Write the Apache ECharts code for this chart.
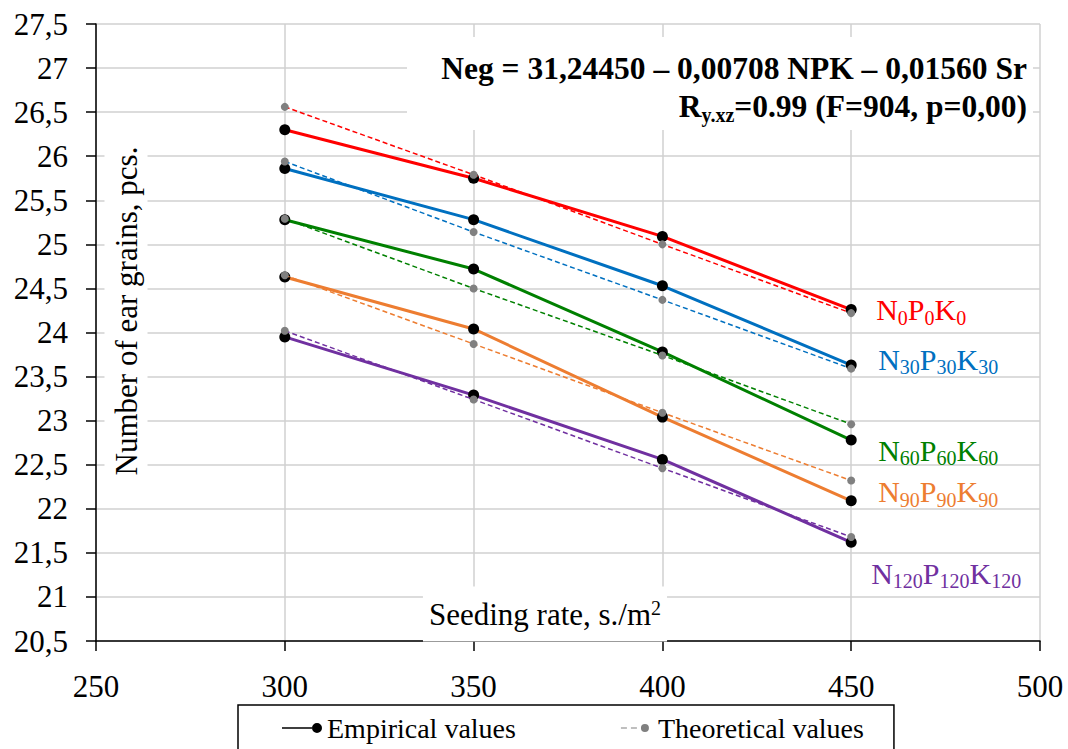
<!DOCTYPE html>
<html>
<head>
<meta charset="utf-8">
<script src="https://cdn.jsdelivr.net/npm/echarts@6/dist/echarts.min.js"></script>
<style>
html,body{margin:0;padding:0;background:#fff;}
#chart{width:1068px;height:749px;}
</style>
</head>
<body>
<div id="chart"></div>
<script>
// ---- data ----
const seedingRates = [300, 350, 400, 450];
const xMin = 250, xMax = 500, xStep = 50;
const yMin = 20.5, yMax = 27.5, yStep = 0.5;

const groupSubs = ['0', '30', '60', '90', '120'];
const groupColors = ['#ff0000', '#0070c0', '#008000', '#ed7d31', '#7030a0'];

const empiricalN0   = [26.30, 25.75, 25.09, 24.26];
const empiricalN30  = [25.86, 25.28, 24.53, 23.63];
const empiricalN60  = [25.28, 24.72, 23.78, 22.78];
const empiricalN90  = [24.63, 24.04, 23.04, 22.09];
const empiricalN120 = [23.95, 23.29, 22.56, 21.62];

const theoreticalN0   = [26.56, 25.79, 25.00, 24.22];
const theoreticalN30  = [25.94, 25.14, 24.37, 23.59];
const theoreticalN60  = [25.29, 24.50, 23.74, 22.96];
const theoreticalN90  = [24.65, 23.87, 23.09, 22.32];
const theoreticalN120 = [24.02, 23.24, 22.46, 21.68];

const empirical = [empiricalN0, empiricalN30, empiricalN60, empiricalN90, empiricalN120];
const theoretical = [theoreticalN0, theoreticalN30, theoreticalN60, theoreticalN90, theoreticalN120];

const legendNames = ['Empirical values', 'Theoretical values'];
const yTitle = 'Number of ear grains, pcs.';
const xTitleMain = 'Seeding rate, s./m';
const xTitleSup = '2';
const equationLine1 = 'Neg = 31,24450 – 0,00708 NPK – 0,01560 Sr';
const equationR = 'R';
const equationRSub = 'y.xz';
const equationLine2Rest = '=0.99 (F=904, p=0,00)';

// ---- layout / style ----
const FONT = '"Liberation Serif", "Times New Roman", serif';
const labelOffsets = [[25, 0], [27, -6], [27, 10], [27, -9], [20, 31]];

const series = [];
groupSubs.forEach((sub, i) => {
  const color = groupColors[i];
  series.push({
    name: 'theor' + i,
    type: 'line',
    data: seedingRates.map((x, j) => [x, theoretical[i][j]]),
    symbol: 'circle',
    symbolSize: 8,
    itemStyle: { color: '#808080' },
    lineStyle: { color: color, width: 1.5, type: [5, 3] },
    z: 4,
    silent: true
  });
  series.push({
    name: 'emp' + i,
    type: 'line',
    data: seedingRates.map((x, j) => [x, empirical[i][j]]),
    symbol: 'circle',
    symbolSize: 11,
    itemStyle: { color: '#000' },
    lineStyle: { color: color, width: 3 },
    z: 3,
    silent: true,
    endLabel: {
      show: true,
      distance: labelOffsets[i][0],
      offset: [0, labelOffsets[i][1]],
      formatter: () => `{m|N}{s|${sub}}{m|P}{s|${sub}}{m|K}{s|${sub}}`,
      rich: {
        m: { fontSize: 30, fontFamily: FONT, color: color },
        s: { fontSize: 20, fontFamily: FONT, color: color, padding: [16, 0, 0, 0] }
      }
    }
  });
});

// legend-only series
series.push({ name: legendNames[0], type: 'line', data: [], itemStyle: { color: '#000' }, lineStyle: { color: '#000' } });
series.push({ name: legendNames[1], type: 'line', data: [], itemStyle: { color: '#808080' }, lineStyle: { color: '#808080' } });

const iconEmp = 'path://M0,4.3L30,4.3L30,5.7L0,5.7Z M30,5A5,5 0 1 1 40,5A5,5 0 1 1 30,5Z';
const iconTheo = 'path://M8,4.5L14,4.5L14,5.5L8,5.5Z M18,4.5L24,4.5L24,5.5L18,5.5Z M28,5A4,4 0 1 1 36,5A4,4 0 1 1 28,5Z M0,0L0.01,0L0.01,0.01Z M40,10L39.99,10L39.99,9.99Z';

const chart = echarts.init(document.getElementById('chart'), null, { renderer: 'svg' });
chart.setOption({
  animation: false,
  backgroundColor: '#fff',
  grid: { left: 96, right: 28, top: 24, bottom: 108, containLabel: false },
  xAxis: {
    type: 'value', min: xMin, max: xMax, interval: xStep,
    axisLine: { onZero: false, lineStyle: { color: '#000', width: 1.5 } },
    axisTick: { show: true, length: 10, lineStyle: { color: '#000', width: 1.5 } },
    axisLabel: { margin: 30, fontFamily: FONT, fontSize: 31, color: '#000' },
    splitLine: { show: true, lineStyle: { color: '#d0d0d0', width: 1.5 } }
  },
  yAxis: {
    type: 'value', min: yMin, max: yMax, interval: yStep,
    axisLine: { show: true, onZero: false, lineStyle: { color: '#000', width: 1.5 } },
    axisTick: { show: true, length: 10, lineStyle: { color: '#000', width: 1.5 } },
    axisLabel: { margin: 28, fontFamily: FONT, fontSize: 31, color: '#000',
      formatter: v => String(v).replace('.', ',') },
    splitLine: { show: true, lineStyle: { color: '#d0d0d0', width: 1.5 } }
  },
  legend: {
    data: [{ name: legendNames[0], icon: iconEmp }, { name: legendNames[1], icon: iconTheo }],
    left: 238, top: 705,
    itemWidth: 40, itemHeight: 10, itemGap: 97,
    padding: [9, 30, 40, 44],
    borderColor: '#000', borderWidth: 1.5, backgroundColor: '#fff',
    selectedMode: false,
    itemStyle: { borderWidth: 0 },
    textStyle: { fontFamily: FONT, fontSize: 28, color: '#000' }
  },
  graphic: [
    { type: 'rect', z: 1, shape: { x: 407, y: 37, width: 626, height: 93 }, style: { fill: '#fff' } },
    { type: 'text', z: 5, x: 1027, y: 68,
      style: { text: equationLine1, fontFamily: FONT, fontSize: 31.5, fontWeight: 'bold', fill: '#000', align: 'right', verticalAlign: 'middle' } },
    { type: 'text', z: 5, x: 1027, y: 106,
      style: { text: `{b|${equationR}}{s|${equationRSub}}{b|${equationLine2Rest}}`, align: 'right', verticalAlign: 'middle',
        rich: {
          b: { fontFamily: FONT, fontSize: 31.5, fontWeight: 'bold', fill: '#000', color: '#000' },
          s: { fontFamily: FONT, fontSize: 20, fontWeight: 'bold', fill: '#000', color: '#000', padding: [18, 0, 0, 0] }
        } } },
    { type: 'text', z: 1, x: 126, y: 311, rotation: Math.PI / 2,
      style: { text: yTitle, fontFamily: FONT, fontSize: 31, fill: '#000', align: 'center', verticalAlign: 'middle',
        backgroundColor: '#fff', padding: [6, 8] } },
    { type: 'text', z: 1, x: 545, y: 614,
      style: { text: `{a|${xTitleMain}}{p|${xTitleSup}}`, align: 'center', verticalAlign: 'middle',
        backgroundColor: '#fff', padding: [11, 6, 10, 6],
        rich: {
          a: { fontFamily: FONT, fontSize: 31, color: '#000' },
          p: { fontFamily: FONT, fontSize: 20, color: '#000', padding: [0, 0, 14, 0] }
        } } }
  ],
  series: series
});
</script>
</body>
</html>
